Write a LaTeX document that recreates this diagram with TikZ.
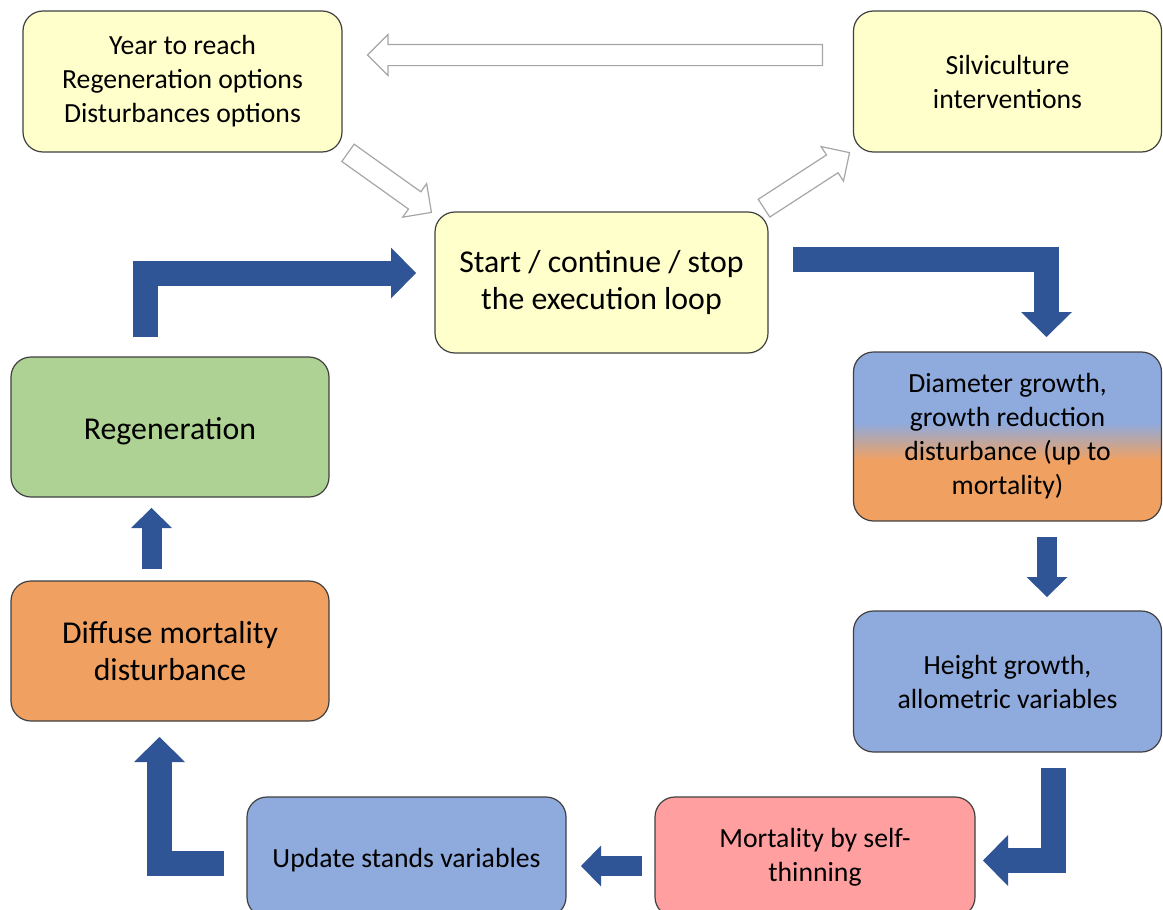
\documentclass[tikz,border=0pt]{standalone}
\usepackage{fontspec}
\setmainfont{Carlito}
\usetikzlibrary{arrows.meta,shapes.arrows}

\definecolor{boxyellow}{HTML}{FFFFCC}
\definecolor{boxgreen}{HTML}{AED293}
\definecolor{boxorange}{HTML}{F0A162}
\definecolor{boxblue}{HTML}{8FAADC}
\definecolor{boxpink}{HTML}{FF9F9F}
\definecolor{boxline}{HTML}{404040}
\definecolor{arrowblue}{HTML}{2F5597}
\definecolor{hollowgray}{HTML}{A6A6A6}

\begin{document}
\begin{tikzpicture}[x=0.5pt, y=-0.5pt,
	box/.style={draw=boxline, line width=0.6pt, rounded corners=10pt, align=center, inner sep=0pt, font=\fontsize{13.85}{17}\selectfont, execute at begin node={\rule{0pt}{0.95em}}},
	bigtext/.style={font=\fontsize{15.9}{18.5}\selectfont},
	bigarrow/.style={draw=arrowblue, line width=12.5pt, -{Triangle[length=12.5pt, width=25.5pt, line width=0pt]}},
	smallarrow/.style={draw=arrowblue, line width=10pt, -{Triangle[length=10pt, width=20.5pt, line width=0pt]}},
	hollow/.style={single arrow, draw=hollowgray, fill=white, line width=0.6pt, inner xsep=0pt, inner ysep=5pt, single arrow head extend=5pt, anchor=tail}]
	\useasboundingbox (0,0) rectangle (1163,910);
	\clip (0,0) rectangle (1163,910);
	\begin{scope}
		\clip[rounded corners=10pt] (853,352) rectangle (1161.5,521);
		\fill[boxblue] (853,352) rectangle (1163,423);
		\shade[top color=boxblue, bottom color=boxorange] (853,423) rectangle (1163,460);
		\fill[boxorange] (853,460) rectangle (1163,521);
	\end{scope}
	\node[box, fill=boxyellow, minimum width=159.5pt, minimum height=70.5pt] (year) at (182.5,81.5) {Year to reach\\Regeneration options\\Disturbances options};
	\node[box, fill=boxyellow, minimum width=154pt, minimum height=70.5pt] (silvi) at (1007.5,81.5) {Silviculture\\interventions};
	\node[box, bigtext, fill=boxyellow, minimum width=166.5pt, minimum height=70.5pt] (start) at (601.5,282.5) {Start / continue / stop\\the execution loop};
	\node[box, bigtext, fill=boxgreen, minimum width=159pt, minimum height=70pt] (regen) at (170,427) {Regeneration};
	\node[box, bigtext, fill=boxorange, minimum width=159pt, minimum height=70pt] (diffuse) at (170,651) {Diffuse mortality\\disturbance};
	\node[box, minimum width=154pt, minimum height=84.5pt] (diam) at (1007.5,436.5) {Diameter growth,\\growth reduction\\disturbance (up to\\mortality)};
	\node[box, fill=boxblue, minimum width=154pt, minimum height=70.5pt] (height) at (1007.5,681.5) {Height growth,\\allometric variables};
	\node[box, fill=boxpink, minimum width=160pt, minimum height=60pt] (mort) at (815,857) {Mortality by self-\\thinning};
	\node[box, fill=boxblue, minimum width=159.5pt, minimum height=60pt] (update) at (406.5,857) {Update stands variables};
	\node[hollow, rotate=180, minimum height=227.5pt] (back) at (823,55) {};
	\node[hollow, rotate=-35.5, minimum height=51.25pt] (into) at (347.5,152.5) {};
	\node[hollow, rotate=33, minimum height=51pt] (out) at (763.5,208.5) {};
	\draw[bigarrow] (145.5,337) |- (416,273);
	\draw[bigarrow] (793,259.5) -| (1046.5,337);
	\draw[smallarrow] (1047,537) -- (1047,597);
	\draw[bigarrow] (1053,768) |- (983,860.5);
	\draw[smallarrow] (642,866) -- (581,866);
	\draw[bigarrow] (224,863.5) -| (159.5,737);
	\draw[smallarrow] (151.5,569) -- (151.5,508);
\end{tikzpicture}
\end{document}
